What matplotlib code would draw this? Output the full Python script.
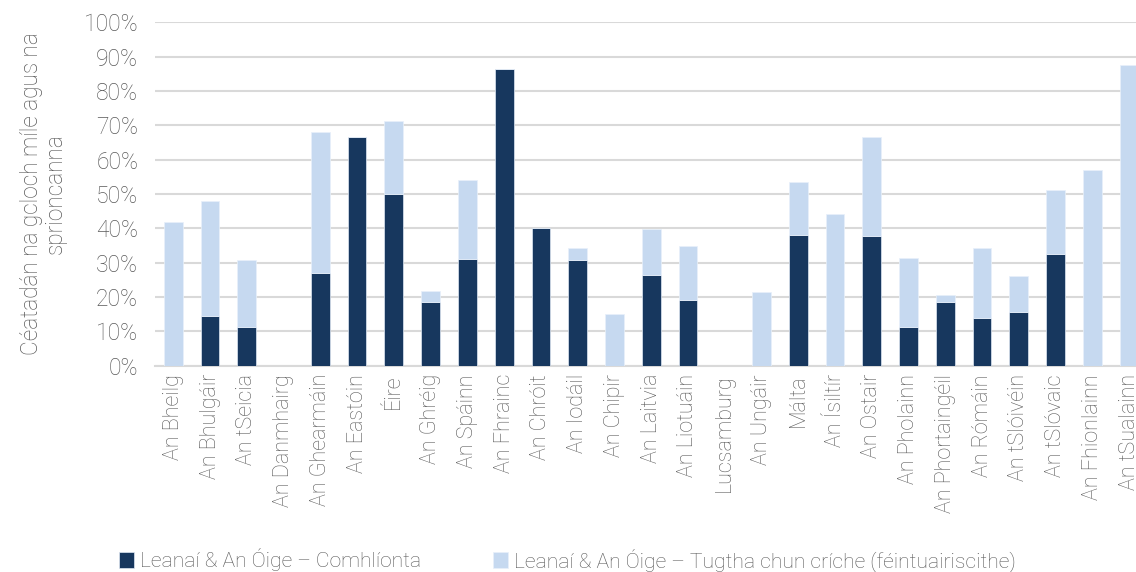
import matplotlib.pyplot as plt
import numpy as np
from matplotlib.ticker import PercentFormatter

plt.rcParams["font.family"] = ["Roboto", "DejaVu Sans"]
plt.rcParams["font.weight"] = "light"

DARK = "#17375e"
LIGHT = "#c6d9f0"
GRID = "#d9d9d9"
TEXT = "#595959"

countries = [
    "An Bheilg", "An Bhulgáir", "An tSeicia", "An Danmhairg", "An Ghearmáin",
    "An Eastóin", "Éire", "An Ghréig", "An Spáinn", "An Fhrainc", "An Chróit",
    "An Iodáil", "An Chipir", "An Laitvia", "An Liotuáin", "Lucsamburg",
    "An Ungáir", "Málta", "An Ísiltír", "An Ostair", "An Pholainn",
    "An Phortaingéil", "An Rómáin", "An tSlóivéin", "An tSlóvaic",
    "An Fhionlainn", "An tSualainn",
]
# completed share (dark) and total incl. self-reported (top of light bar), in %
completed = [0, 14.6, 11.3, 0, 27.1, 66.7, 50.0, 18.7, 31.1, 86.4, 40.0,
             30.9, 0, 26.4, 19.2, 0, 0, 38.2, 0, 37.8, 11.2,
             18.7, 13.8, 15.6, 32.4, 0, 0]
total = [42.0, 48.0, 30.7, 0, 68.0, 66.7, 71.3, 21.8, 54.0, 86.4, 40.0,
         34.3, 15.0, 39.8, 34.9, 0, 21.5, 53.6, 44.3, 66.7, 31.3,
         20.6, 34.2, 26.2, 51.1, 57.1, 87.5]

completed = np.array(completed) / 100
reported = np.array(total) / 100 - completed

fig = plt.figure(figsize=(11.36, 5.72), dpi=100)
ax = fig.add_axes([154.9 / 1136, 0.3607, (1147.5 - 154.9) / 1136, 0.6])

x = np.arange(len(countries))
ax.bar(x, completed, width=0.51, color=DARK, edgecolor="#dfe8f3", linewidth=0.5,
       label="Leanaí & An Óige – Comhlíonta", zorder=3)
ax.bar(x, reported, width=0.51, bottom=completed, color=LIGHT, edgecolor="#e8f0fa",
       linewidth=0.5, label="Leanaí & An Óige – Tugtha chun críche (féintuairiscithe)",
       zorder=3)

ax.set_xlim(-0.5, 26.5)
ax.set_ylim(0, 1.0)
ax.set_yticks(np.arange(0, 1.01, 0.1))
ax.yaxis.set_major_formatter(PercentFormatter(1.0, decimals=0))
ax.grid(axis="y", color=GRID, linewidth=1.5, zorder=0)
for side in ["top", "right", "left"]:
    ax.spines[side].set_visible(False)
ax.spines["bottom"].set_color(GRID)
ax.spines["bottom"].set_linewidth(1.5)
ax.tick_params(axis="both", length=0, colors=TEXT)
ax.tick_params(axis="y", pad=12, labelsize=16.5)
ax.tick_params(axis="x", pad=6)
ax.set_xticks(x)
ax.set_xticklabels(countries, rotation=90, fontsize=15.5, color=TEXT)

ax.set_ylabel("Céatadán na gcloch míle agus na\nsprioncanna", fontsize=16.3,
              fontweight="light", color=TEXT, labelpad=12, linespacing=1.05)

fig.legend(loc="center left", bbox_to_anchor=(100 / 1136, 12 / 572), ncol=2,
           frameon=False, prop={"size": 15.2, "weight": "light"}, labelcolor=TEXT,
           handlelength=0.7, handleheight=0.8, handletextpad=0.3, columnspacing=3.4)

fig.savefig("out.png", dpi=100, facecolor="white")
